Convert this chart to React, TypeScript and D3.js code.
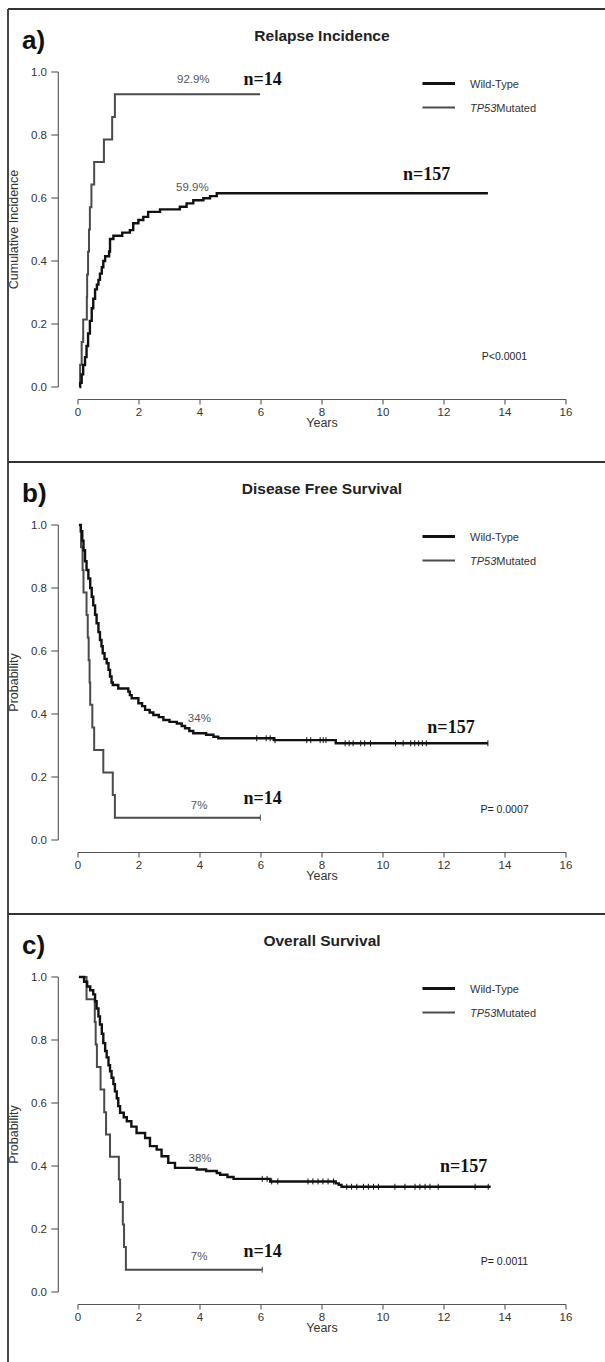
import React from "react";
import * as d3 from "d3";

type Pt = [number, number];

// ---------- tick values ----------
const yearTicks = [0, 2, 4, 6, 8, 10, 12, 14, 16];
const probTicks = [0, 0.2, 0.4, 0.6, 0.8, 1.0];

// ---------- panel texts ----------
const panelLetters = ["a)", "b)", "c)"];
const panelTitles = ["Relapse Incidence", "Disease Free Survival", "Overall Survival"];
const yAxisLabels = ["Cumulative Incidence", "Probability", "Probability"];
const pValues = ["P<0.0001", "P= 0.0007", "P= 0.0011"];
const seriesNames = ["Wild-Type", "Mutated"];

// ---------- a) Relapse incidence (years, cumulative incidence) ----------
const relapseWildType: Pt[] = [
  [0.05, 0], [0.07, 0.013], [0.12, 0.04], [0.17, 0.07], [0.23, 0.095], [0.28, 0.13],
  [0.33, 0.17], [0.39, 0.21], [0.45, 0.25], [0.5, 0.28], [0.56, 0.31], [0.62, 0.325],
  [0.67, 0.34], [0.72, 0.36], [0.78, 0.38], [0.83, 0.4], [0.89, 0.415], [1.02, 0.43],
  [1.05, 0.47], [1.16, 0.48], [1.45, 0.49], [1.7, 0.498], [1.81, 0.52], [1.98, 0.53],
  [2.14, 0.54], [2.3, 0.556], [2.69, 0.564], [3.34, 0.572], [3.56, 0.583], [3.78, 0.593],
  [4.11, 0.599], [4.33, 0.606], [4.55, 0.615], [13.44, 0.615],
];
const relapseMutated: Pt[] = [
  [0.05, 0], [0.07, 0.071], [0.12, 0.143], [0.17, 0.214], [0.29, 0.286], [0.3, 0.357],
  [0.33, 0.429], [0.36, 0.5], [0.39, 0.571], [0.44, 0.643], [0.53, 0.714], [0.85, 0.786],
  [1.12, 0.857], [1.21, 0.929], [5.97, 0.929],
];

// ---------- b) Disease free survival ----------
const dfsWildType: Pt[] = [
  [0.03, 1.0], [0.09, 0.98], [0.14, 0.95], [0.18, 0.92], [0.23, 0.885], [0.28, 0.857],
  [0.34, 0.83], [0.4, 0.8], [0.45, 0.772], [0.5, 0.745], [0.56, 0.715], [0.61, 0.688],
  [0.67, 0.66], [0.72, 0.635], [0.77, 0.615], [0.81, 0.593], [0.87, 0.575], [0.94, 0.561],
  [1.0, 0.54], [1.05, 0.519], [1.1, 0.5], [1.14, 0.492], [1.32, 0.481], [1.65, 0.471],
  [1.7, 0.46], [1.76, 0.45], [1.98, 0.434], [2.1, 0.425], [2.2, 0.413], [2.35, 0.405],
  [2.47, 0.397], [2.65, 0.39], [2.8, 0.381], [3.0, 0.375], [3.24, 0.37], [3.4, 0.362],
  [3.51, 0.355], [3.65, 0.346], [3.78, 0.339], [4.2, 0.334], [4.44, 0.328], [4.6, 0.323],
  [6.42, 0.317], [8.45, 0.307], [13.44, 0.307],
];
const dfsMutated: Pt[] = [
  [0.04, 1.0], [0.1, 0.929], [0.15, 0.857], [0.18, 0.786], [0.28, 0.714], [0.32, 0.643],
  [0.35, 0.571], [0.38, 0.5], [0.4, 0.429], [0.47, 0.357], [0.53, 0.286], [0.83, 0.214],
  [1.14, 0.143], [1.21, 0.071], [5.98, 0.071],
];
const dfsWildTypeCensored = [
  5.86, 6.17, 6.3, 6.46, 7.5, 7.63, 7.94, 8.04, 8.13, 8.76, 8.89, 9.02, 9.27, 9.4, 9.59,
  10.41, 10.66, 10.91, 11.04, 11.17, 11.29, 11.42, 13.44,
];
const dfsMutatedCensored = [5.98];

// ---------- c) Overall survival ----------
const osWildType: Pt[] = [
  [0.03, 1.0], [0.2, 0.985], [0.3, 0.97], [0.4, 0.958], [0.5, 0.945], [0.56, 0.923],
  [0.61, 0.9], [0.67, 0.875], [0.72, 0.849], [0.78, 0.82], [0.83, 0.79], [0.89, 0.765],
  [0.94, 0.745], [1.0, 0.72], [1.05, 0.701], [1.1, 0.68], [1.16, 0.66], [1.21, 0.637],
  [1.27, 0.615], [1.32, 0.59], [1.38, 0.569], [1.5, 0.555], [1.6, 0.542], [1.75, 0.525],
  [1.92, 0.505], [2.2, 0.489], [2.36, 0.463], [2.58, 0.452], [2.74, 0.431], [2.96, 0.41],
  [3.18, 0.394], [3.89, 0.389], [4.2, 0.384], [4.55, 0.378], [4.66, 0.372], [4.9, 0.365],
  [5.1, 0.359], [6.3, 0.351], [8.45, 0.345], [8.55, 0.34], [8.64, 0.334], [13.53, 0.334],
];
const osMutated: Pt[] = [
  [0.03, 1.0], [0.28, 0.929], [0.55, 0.857], [0.58, 0.786], [0.62, 0.714], [0.74, 0.643],
  [0.86, 0.571], [0.92, 0.5], [1.05, 0.429], [1.34, 0.357], [1.38, 0.286], [1.47, 0.214],
  [1.51, 0.143], [1.57, 0.071], [6.04, 0.071],
];
const osWildTypeCensored = [
  6.04, 6.2, 6.35, 6.55, 7.54, 7.7, 7.87, 8.03, 8.2, 8.38, 8.81, 8.97, 9.14, 9.36, 9.52,
  9.69, 9.85, 10.39, 10.72, 11.05, 11.21, 11.38, 11.54, 11.81, 13.02, 13.45,
];
const osMutatedCensored = [6.04];

// ---------- annotations (label text, years, value) ----------
const annotPctA: [string, number, number][] = [["92.9%", 3.78, 0.978], ["59.9%", 3.75, 0.635]];
const annotNA: [string, number, number][] = [["n=14", 6.05, 0.978], ["n=157", 11.43, 0.676]];
const annotPctB: [string, number, number][] = [["34%", 3.98, 0.386], ["7%", 3.97, 0.111]];
const annotNB: [string, number, number][] = [["n=157", 12.23, 0.36], ["n=14", 6.05, 0.132]];
const annotPctC: [string, number, number][] = [["38%", 4.0, 0.426], ["7%", 3.97, 0.113]];
const annotNC: [string, number, number][] = [["n=157", 12.64, 0.4], ["n=14", 6.05, 0.129]];

const panels = [
  { wt: relapseWildType, mut: relapseMutated, wtC: [] as number[], mutC: [] as number[], pct: annotPctA, n: annotNA },
  { wt: dfsWildType, mut: dfsMutated, wtC: dfsWildTypeCensored, mutC: dfsMutatedCensored, pct: annotPctB, n: annotNB },
  { wt: osWildType, mut: osMutated, wtC: osWildTypeCensored, mutC: osMutatedCensored, pct: annotPctC, n: annotNC },
];

const W = 605;
const H = 1362;
const panelTops = [9, 462, 914];
const SANS = "'Liberation Sans', Arial, Helvetica, sans-serif";
const SERIF = "'Liberation Serif', 'Times New Roman', serif";

function valueAt(data: Pt[], t: number): number {
  let v = data[0][1];
  for (const [x, y] of data) {
    if (x <= t) v = y;
    else break;
  }
  return v;
}

function Panel({ idx }: { idx: number }) {
  const top = panelTops[idx];
  const p = panels[idx];
  const x = d3.scaleLinear().domain([0, 16]).range([78, 566]);
  const y = d3.scaleLinear().domain([0, 1]).range([top + 378, top + 63]);
  const line = d3
    .line<Pt>()
    .x((d) => x(d[0]))
    .y((d) => y(d[1]))
    .curve(d3.curveStepAfter);
  const axisY = top + 390.5;
  const yAxisX = 58.3;
  const axisColor = "#555";
  const wtColor = "#111";
  const mutColor = "#4a4a4a";

  return (
    <g>
      {/* panel letter and title */}
      <text x={22} y={top + 40} fontFamily={SANS} fontWeight="bold" fontSize={26} fill="#111">
        {panelLetters[idx]}
      </text>
      <text x={322} y={top + 26} fontFamily={SANS} fontWeight="bold" fontSize={15.5} fill="#222" textAnchor="middle" dominantBaseline="central">
        {panelTitles[idx]}
      </text>

      {/* y axis */}
      <line x1={yAxisX} x2={yAxisX} y1={y(0)} y2={y(1)} stroke={axisColor} strokeWidth={1.1} />
      {probTicks.map((v) => (
        <g key={"yt" + v}>
          <line x1={yAxisX - 7} x2={yAxisX} y1={y(v)} y2={y(v)} stroke={axisColor} strokeWidth={1.1} />
          <text x={47} y={y(v)} fontFamily={SANS} fontSize={11.5} fill="#333" textAnchor="end" dominantBaseline="central">
            {v.toFixed(1)}
          </text>
        </g>
      ))}
      <text
        transform={`translate(14,${(y(0) + y(1)) / 2}) rotate(-90)`}
        fontFamily={SANS}
        fontSize={12.5}
        fill="#333"
        textAnchor="middle"
        dominantBaseline="central"
      >
        {yAxisLabels[idx]}
      </text>

      {/* x axis */}
      <line x1={x(0)} x2={x(16)} y1={axisY} y2={axisY} stroke={axisColor} strokeWidth={1.1} />
      {yearTicks.map((t) => (
        <g key={"xt" + t}>
          <line x1={x(t)} x2={x(t)} y1={axisY} y2={axisY + 5} stroke={axisColor} strokeWidth={1.1} />
          <text x={x(t)} y={top + 403} fontFamily={SANS} fontSize={11.5} fill="#333" textAnchor="middle" dominantBaseline="central">
            {t}
          </text>
        </g>
      ))}
      <text x={x(8)} y={top + 414} fontFamily={SANS} fontSize={12.5} fill="#333" textAnchor="middle" dominantBaseline="central">
        Years
      </text>

      {/* curves */}
      <path d={line(p.mut) || ""} fill="none" stroke={mutColor} strokeWidth={2} />
      <path d={line(p.wt) || ""} fill="none" stroke={wtColor} strokeWidth={2.4} />
      {p.wtC.map((t, i) => (
        <line key={"wc" + i} x1={x(t)} x2={x(t)} y1={y(valueAt(p.wt, t)) - 3} y2={y(valueAt(p.wt, t)) + 3} stroke={wtColor} strokeWidth={1} />
      ))}
      {p.mutC.map((t, i) => (
        <line key={"mc" + i} x1={x(t)} x2={x(t)} y1={y(valueAt(p.mut, t)) - 3} y2={y(valueAt(p.mut, t)) + 3} stroke={mutColor} strokeWidth={1} />
      ))}

      {/* legend */}
      <line x1={422.5} x2={455} y1={top + 74.5} y2={top + 74.5} stroke={wtColor} strokeWidth={3} />
      <text x={470} y={top + 74.5} fontFamily={SANS} fontSize={11} fill="#333" dominantBaseline="central">
        {seriesNames[0]}
      </text>
      <line x1={422.5} x2={455} y1={top + 98.5} y2={top + 98.5} stroke={mutColor} strokeWidth={2} />
      <text x={470} y={top + 98.5} fontFamily={SANS} fontSize={11} fill="#333" dominantBaseline="central">
        <tspan fontStyle="italic">TP53</tspan>
        {seriesNames[1]}
      </text>

      {/* annotations */}
      {p.pct.map(([label, t, v]) => (
        <text key={"pc" + label} x={x(t)} y={y(v)} fontFamily={SANS} fontSize={11.5} fill="#555" textAnchor="middle" dominantBaseline="central">
          {label}
        </text>
      ))}
      {p.n.map(([label, t, v]) => (
        <text key={"n" + label} x={x(t)} y={y(v)} fontFamily={SERIF} fontWeight="bold" fontSize={18} fill="#111" textAnchor="middle" dominantBaseline="central">
          {label}
        </text>
      ))}
      <text x={504.5} y={top + 347} fontFamily={SANS} fontSize={10.5} fill="#222" textAnchor="middle" dominantBaseline="central">
        {pValues[idx]}
      </text>
    </g>
  );
}

export default function App() {
  return (
    <svg
      width={W}
      height={H}
      viewBox={`0 0 ${W} ${H}`}
      style={{ position: "absolute", left: 0, top: 0, background: "#fff" }}
    >
      <rect x={0} y={0} width={W} height={H} fill="#fff" />
      {/* frame lines */}
      <line x1={8} x2={8} y1={9} y2={H} stroke="#333" strokeWidth={1.8} />
      {panelTops.map((t) => (
        <line key={"sep" + t} x1={8} x2={W} y1={t} y2={t} stroke="#333" strokeWidth={1.8} />
      ))}
      {panels.map((_, i) => (
        <Panel key={i} idx={i} />
      ))}
    </svg>
  );
}
